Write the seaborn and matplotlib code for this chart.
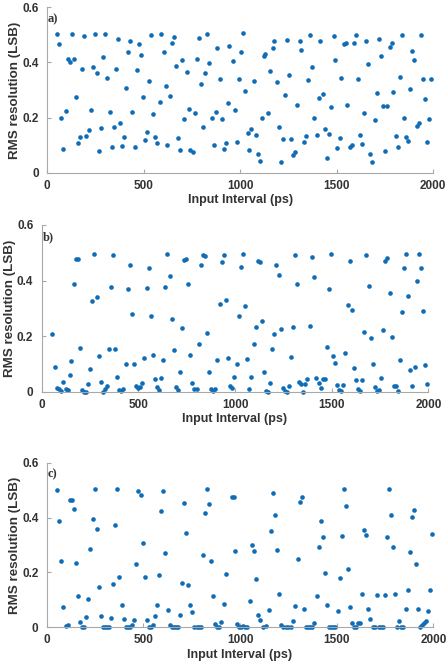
import matplotlib
matplotlib.use('Agg')
import matplotlib.pyplot as plt
import seaborn as sns

# panel a)
x_a = [53, 64, 74, 85, 97, 107, 117, 128, 140, 150, 160, 173, 183, 193, 204, 216, 226, 236, 247, 259,
       269, 279, 292, 302, 312, 324, 335, 345, 355, 367, 378, 388, 400, 411, 421, 431, 442, 454, 464, 474,
       485, 497, 507, 518, 528, 540, 550, 561, 571, 583, 593, 604, 614, 624, 637, 647, 657, 668, 680, 690,
       700, 711, 723, 733, 743, 756, 766, 776, 787, 799, 809, 819, 830, 840, 852, 863, 873, 883, 895, 906,
       916, 926, 938, 945,
       961, 973, 984, 994, 1004, 1014, 1026, 1039, 1047, 1059, 1070, 1082, 1093, 1104, 1113, 1122, 1130, 1147, 1156, 1168,
       1178, 1190, 1199, 1211, 1222, 1234, 1244, 1254, 1265, 1276, 1285, 1297, 1309, 1318, 1330, 1340, 1351, 1361, 1373, 1383,
       1396, 1408, 1416, 1428, 1439, 1449, 1461, 1471, 1484, 1492, 1503, 1515, 1525, 1539, 1546, 1556, 1568, 1577, 1591, 1599,
       1611, 1622, 1632, 1640, 1654, 1664, 1675, 1685, 1697, 1708, 1720, 1732, 1740, 1753, 1763, 1775, 1785, 1794, 1806, 1816,
       1827, 1839, 1849, 1861, 1871, 1882, 1892, 1903, 1916, 1925, 1935, 1946, 1958, 1968, 1979, 1989]
rms_a = [.502, .466, .198, .085, .224, .414, .400, .502, .411, .273, .106, .131, .377, .497, .134, .155, .229, .382, .502, .363,
         .079, .161, .419, .503, .342, .220, .093, .165, .375, .486, .179, .098, .128, .306, .438, .477, .220, .093, .373, .468,
         .427, .275, .119, .146, .332, .501, .212, .131, .106, .257, .502, .436, .313, .102, .278, .469, .491, .388, .126, .081,
         .407, .195, .365, .230, .081, .075, .218, .414, .490, .321, .166, .361, .502, .397, .197, .099, .221, .454, .339, .194,
         .086, .108, .252, .460,
         .405, .229, .111, .339, .436, .505, .298, .145, .082, .159, .334, .136, .069, .042, .197, .425, .430, .215, .369, .451,
         .476, .330, .166, .040, .121, .281, .482, .356, .121, .065, .074, .244, .479, .445, .113, .133, .335, .501, .385, .200,
         .137, .272, .477, .284, .160, .052, .142, .237, .497, .409, .090, .126, .342, .466, .469, .246, .094, .099, .472, .499,
         .340, .136, .103, .215, .476, .394, .068, .039, .192, .290, .486, .425, .243, .077, .243, .457, .469, .292, .132, .094,
         .348, .501, .197, .131, .116, .304, .443, .407, .169, .182, .501, .340, .269, .113, .195, .340]

# panel b)
x_b = [55, 67, 81, 91, 102, 112, 124, 134, 145, 153, 166, 176, 186, 198, 207, 217, 228, 240, 250, 260,
       272, 284, 295, 305, 316, 326, 336, 348, 359, 371, 381, 391, 402, 412, 422, 434, 445, 455, 467, 478,
       488, 498, 509, 521, 531, 543, 553, 564, 576, 586, 596, 607, 619, 629, 640, 650, 662, 672, 683, 693,
       705, 715, 726, 736, 747, 759, 769, 779, 790, 802, 812, 822, 834, 845, 855, 865, 877, 888, 898, 909,
       921, 931, 941, 953, 964,
       976, 986, 996, 1009, 1019, 1029, 1040, 1052, 1062, 1072, 1085, 1096, 1107, 1117, 1129, 1138, 1150, 1160, 1171, 1181,
       1191, 1203, 1214, 1226, 1236, 1246, 1257, 1267, 1277, 1290, 1300, 1312, 1322, 1331, 1341, 1353, 1362, 1374, 1386, 1398,
       1410, 1421, 1433, 1443, 1454, 1464, 1476, 1486, 1496, 1507, 1517, 1529, 1538, 1548, 1560, 1571, 1583, 1593, 1604, 1614,
       1626, 1636, 1646, 1658, 1669, 1679, 1691, 1701, 1712, 1724, 1734, 1745, 1755, 1767, 1777, 1788, 1800, 1810, 1821, 1831,
       1841, 1853, 1864, 1874, 1884, 1897, 1907, 1917, 1929, 1941, 1952, 1962, 1972, 1984, 1995]
rms_b = [.206, .089, .012, .008, .004, .036, .011, .007, .061, .109, .386, .479, .476, .158, .006, 0, 0, .028, .082, .326,
         .494, .341, .128, .034, 0, .011, .022, .154, .378, .492, .154, .054, .006, .004, .011, .098, .368, .456, .278, .098,
         .020, .014, .017, .030, .120, .374, .445, .272, .131, .044, .016, .007, .050, .114, .377, .496, .416, .260, .151, .018,
         .007, .072, .228, .474, .479, .388, .132, .032, .008, .010, .173, .455, .493, .488, .210, .070, .011, .001, .011, .114,
         .316, .467, .492, .330, .122,
         .022, .012, .053, .100, .271, .448, .496, .310, .119, .011, .052, .173, .234, .470, .467, .256, .072, .001, 0, .031,
         .155, .208, .456, .419, .226, .013, .004, 0, .019, .124, .233, .493, .388, .035, .028, 0, .029, .046, .236, .486,
         .412, .049, .031, .013, .044, .046, .161, .368, .497, .127, .102, .024, .007, .004, .023, .140, .311, .470, .293, .085,
         .043, .010, .002, .042, .215, .493, .380, .194, .100, .016, .001, .005, .049, .221, .472, .482, .354, .196, .019, .019,
         .004, .113, .286, .446, .496, .344, .079, .019, .089, .400, .496, .445, .292, .096, .028]

# panel c)
x_c = [55, 66, 76, 86, 98, 109, 119, 129, 140, 152, 162, 172, 183, 195, 205, 216, 226, 238, 248, 259,
       269, 279, 291, 302, 312, 322, 333, 345, 355, 366, 376, 388, 398, 409, 421, 431, 441, 453, 464, 474,
       486, 497, 507, 517, 529, 540, 550, 560, 572, 583, 593, 603, 614, 626, 636, 647, 657, 669, 679, 690,
       700, 710, 722, 733, 743, 753, 764, 776, 786, 796, 807, 817, 829, 840, 850, 860, 872, 883, 893, 903,
       915, 926,
       957, 967, 976, 986, 996, 1007, 1017, 1028, 1038, 1050, 1060, 1071, 1083, 1093, 1103, 1121, 1133, 1148, 1159, 1169,
       1179, 1191, 1201, 1212, 1224, 1236, 1250, 1262, 1276, 1286, 1298, 1308, 1319, 1331, 1341, 1352, 1362, 1372, 1384, 1396,
       1407, 1419, 1429, 1440, 1450, 1460, 1470, 1483, 1493, 1505, 1515, 1526, 1536, 1547, 1559, 1569, 1580, 1590, 1600, 1610,
       1621, 1631, 1641, 1652, 1664, 1674, 1686, 1696, 1707, 1717, 1729, 1740, 1750, 1760, 1771, 1781, 1791, 1803, 1814, 1824,
       1834, 1845, 1857, 1867, 1878, 1888, 1898, 1908, 1919, 1929, 1940, 1950, 1960, 1971, 1981, 1991]
rms_c = [.501, .386, .243, .073, .006, .007, .465, .463, .433, .234, .115, .019, 0, 0, .039, .102, .287, .396, .503, .360,
         .146, .043, 0, 0, .002, .001, .035, .157, .372, .505, .185, .080, .030, 0, 0, .001, .007, .027, .231, .498,
         .482, .309, .182, .026, 0, 0, .007, .043, .083, .192, .425, .497, .272, .064, .010, .001, 0, 0, 0, .044,
         .160, .452, .345, .156, .083, .057, 0, 0, 0, 0, .264, .417, .505, .450, .243, .114, .011, 0, 0, .021,
         .084, .193,
         .476, .474, .279, .011, .002, .002, .004, 0, .002, .095, .301, .279, .177, .046, .026, .002, .006, .064, .350, .488,
         .408, .282, .122, .009, 0, 0, 0, .002, .023, .079, .250, .458, .476, .066, 0, 0, 0, .002, .017, .114,
         .293, .386, .329, .197, .080, .002, 0, 0, .002, .060, .181, .333, .504, .441, .214, .075, .015, 0, 0, .015,
         .015, .122, .355, .335, .068, .030, .002, .002, .119, .002, 0, 0, .119, .329, .504, .408, .292, .123, 0, .023,
         0, 0, .068, .135, .275, .401, .428, .232, .066, .002, .009, .015, .023, .058, .135, .341]

panel_tags = ['a)', 'b)', 'c)']
x_ticks = [0, 500, 1000, 1500, 2000]
y_ticks = [0, 0.2, 0.4, 0.6]
y_ticklabels = ['0', '0.2', '0.4', '0.6']

sns.set_style('ticks')
plt.rcParams['font.family'] = ['Liberation Sans', 'DejaVu Sans']

dot = '#0f6cb6'
grey = '#a8a8a8'
txt = '#333333'

fig = plt.figure(figsize=(4.47, 6.68), dpi=100)
boxes = [[0.1051, 0.7415, 0.864, 0.2476],
         [0.0933, 0.4136, 0.865, 0.2496],
         [0.1045, 0.0609, 0.865, 0.2464]]

for box, tag, xs, ys in zip(boxes, panel_tags, [x_a, x_b, x_c], [rms_a, rms_b, rms_c]):
    ax = fig.add_axes(box)
    sns.scatterplot(x=xs, y=ys, ax=ax, s=11, color=dot, linewidth=0, clip_on=False)
    ax.set_xlim(0, 2000)
    ax.set_ylim(0, 0.6)
    ax.set_xticks(x_ticks)
    ax.set_yticks(y_ticks)
    ax.set_yticklabels(y_ticklabels)
    sns.despine(ax=ax)
    for s in ['left', 'bottom']:
        ax.spines[s].set_color(grey)
        ax.spines[s].set_linewidth(0.8)
    ax.tick_params(direction='in', length=3, width=0.8, color=grey,
                   labelsize=8.5, labelcolor=txt)
    ax.tick_params(axis='y', pad=6)
    ax.tick_params(axis='x', pad=5)
    for lab in ax.get_xticklabels() + ax.get_yticklabels():
        lab.set_fontweight('bold')
    ax.set_xlabel('Input Interval (ps)', fontsize=9, fontweight='bold', color=txt, labelpad=2)
    ax.set_ylabel('RMS resolution (LSB)', fontsize=9.6, fontweight='bold', color=txt, labelpad=1)
    ax.text(0.002, 0.965, tag, transform=ax.transAxes, family='Liberation Serif',
            fontweight='bold', fontsize=9, va='top', ha='left', color=txt)

fig.savefig('out.png', dpi=100)
